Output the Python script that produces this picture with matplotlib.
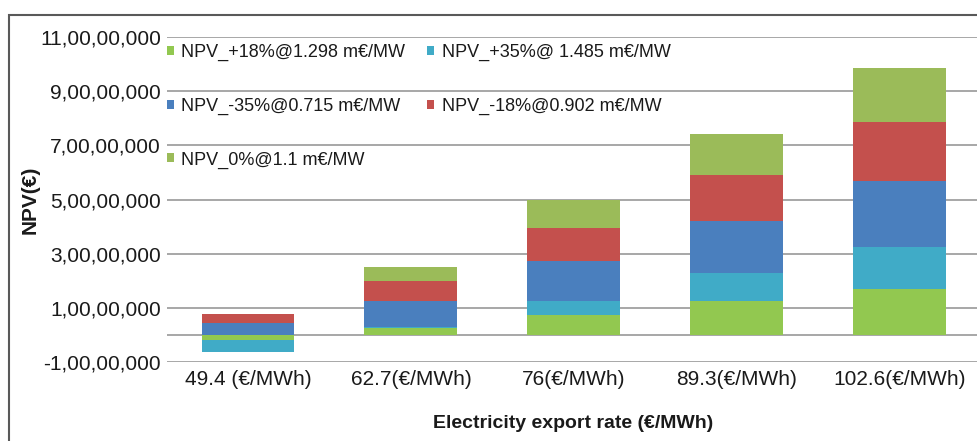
import matplotlib.pyplot as plt
from matplotlib.patches import Rectangle
import numpy as np

plt.rcParams['font.family'] = ['Liberation Sans', 'DejaVu Sans']

categories = ['49.4 (€/MWh)', '62.7(€/MWh)', '76(€/MWh)', '89.3(€/MWh)', '102.6(€/MWh)']

# NPV values in euro, one list per series
npv_p18 = [-2.0e6, 2.7e6, 7.4e6, 12.4e6, 17.1e6]
npv_p35 = [-4.3e6, 0.4e6, 5.2e6, 10.3e6, 15.2e6]
npv_m35 = [4.5e6, 9.5e6, 14.8e6, 19.3e6, 24.6e6]
npv_m18 = [3.1e6, 7.4e6, 12.2e6, 17.0e6, 21.7e6]
npv_0 = [0.2e6, 5.2e6, 10.1e6, 15.2e6, 20.0e6]

series = [
    ('NPV_+18%@1.298 m€/MW', npv_p18, '#92C850'),
    ('NPV_+35%@ 1.485 m€/MW', npv_p35, '#40ABC7'),
    ('NPV_-35%@0.715 m€/MW', npv_m35, '#4A7FBE'),
    ('NPV_-18%@0.902 m€/MW', npv_m18, '#C4504D'),
    ('NPV_0%@1.1 m€/MW', npv_0, '#9BBB59'),
]

y_ticks = [-1e7, 1e7, 3e7, 5e7, 7e7, 9e7, 11e7]
y_tick_labels = ['-1,00,00,000', '1,00,00,000', '3,00,00,000', '5,00,00,000',
                 '7,00,00,000', '9,00,00,000', '11,00,00,000']

W, H = 977, 441
fig = plt.figure(figsize=(W / 100, H / 100), dpi=100)
ax = fig.add_axes([166.6 / W, 1 - 362 / H, (981 - 166.6) / W, (362 - 37) / H])

x = np.arange(len(categories))
pos_base = np.zeros(len(categories))
neg_base = np.zeros(len(categories))
bars = {}
for label, vals, color in series:
    vals = np.array(vals)
    bottom = np.where(vals >= 0, pos_base, neg_base)
    bars[label] = ax.bar(x, vals, 0.57, bottom=bottom, color=color, label=label, zorder=3)
    pos_base = pos_base + np.where(vals >= 0, vals, 0)
    neg_base = neg_base + np.where(vals < 0, vals, 0)

ax.set_xlim(-0.5, len(categories) - 0.5)
ax.set_ylim(-1e7, 11e7)
ax.set_yticks(y_ticks)
ax.set_yticklabels(y_tick_labels)
ax.set_xticks(x)
ax.set_xticklabels(categories)
ax.tick_params(axis='both', length=0, labelsize=15, colors='#1a1a1a')
ax.tick_params(axis='y', pad=4)
ax.tick_params(axis='x', pad=6)
ax.grid(axis='y', color='#A0A0A0', linewidth=1.3, zorder=0)
ax.axhline(0, color='#A0A0A0', linewidth=1.3, zorder=1)
for s in ax.spines.values():
    s.set_visible(False)

ax.set_ylabel('NPV(€)', fontsize=15, fontweight='bold', color='#1a1a1a')
ax.yaxis.set_label_coords((40 - 166.6) / (981 - 166.6), 0.5)
fig.text(573 / W, 1 - 424 / H, 'Electricity export rate (€/MWh)', fontsize=14,
         fontweight='bold', color='#1a1a1a', ha='center', va='center')

# legend laid out row by row like the original
order = [0, 2, 4, 1, 3]
handles = [bars[series[i][0]] for i in order]
labels = [series[i][0] for i in order]
ax.legend(handles, labels, ncol=2, frameon=False, fontsize=13,
          loc='upper left', bbox_to_anchor=(167 / W, 1 - 44 / H),
          bbox_transform=fig.transFigure, borderpad=0, borderaxespad=0,
          handlelength=0.4, handleheight=0.4, handletextpad=0.4,
          labelspacing=2.02, columnspacing=1.2, labelcolor='#1a1a1a')

fig.patches.append(Rectangle((9 / W, -0.05), 1.0, 1 - 15 / H + 0.05,
                             transform=fig.transFigure, fill=False,
                             edgecolor='#595959', linewidth=1.5))

fig.savefig('out.png', dpi=100)
